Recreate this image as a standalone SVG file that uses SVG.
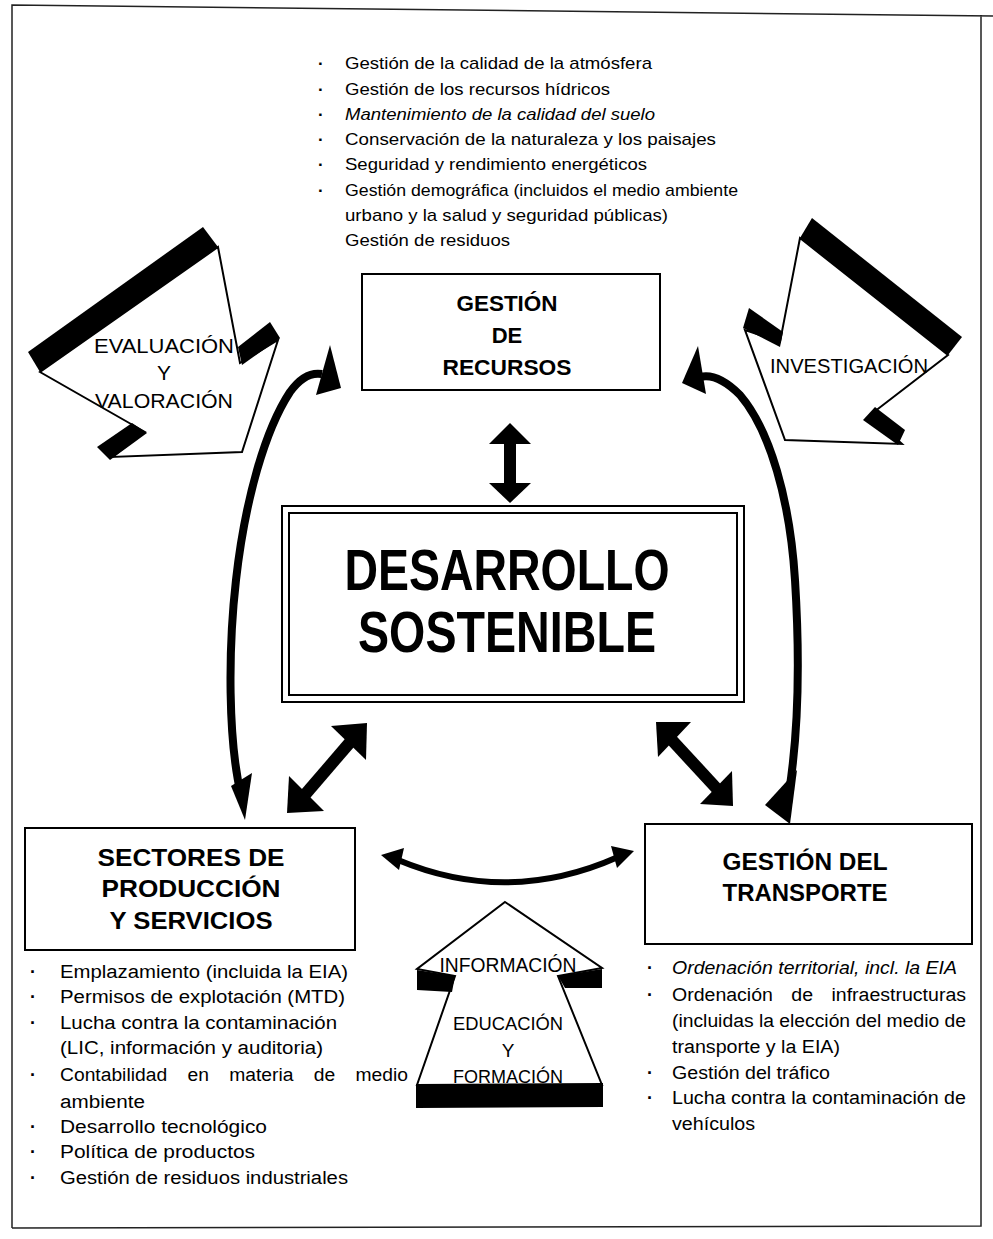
<svg xmlns="http://www.w3.org/2000/svg" width="993" height="1239" viewBox="0 0 993 1239">
<defs>
<style>
.t{font-family:"Liberation Sans",Arial,sans-serif;fill:#000}
.li{font-size:17px}
.lb{font-size:18px}
.b{font-weight:bold}
.bu{font-weight:bold}
.box{fill:#fff;stroke:#000;stroke-width:2}
.bar{fill:#000}
.arw{fill:#fff;stroke:#000;stroke-width:2;stroke-linejoin:miter}
.cur{fill:none;stroke:#000;stroke-width:8}
.head{fill:#000}
.shaft{stroke:#000;stroke-width:12}
.frame{fill:none;stroke:#222;stroke-width:1.5}
</style>
</defs>
<rect width="993" height="1239" fill="#fff"/>
<path class="frame" d="M12,1228 L12,5 L993,16 M981,15 L981,1226 L12,1228"/>

<g id="lista-recursos" class="t li">
<text class="bu" x="318" y="69">·</text><text x="345" y="69" textLength="307" lengthAdjust="spacingAndGlyphs">Gestión de la calidad de la atmósfera</text>
<text class="bu" x="318" y="95">·</text><text x="345" y="95" textLength="265" lengthAdjust="spacingAndGlyphs">Gestión de los recursos hídricos</text>
<text class="bu" x="318" y="120">·</text><text x="345" y="120" font-style="italic" textLength="310" lengthAdjust="spacingAndGlyphs">Mantenimiento de la calidad del suelo</text>
<text class="bu" x="318" y="145">·</text><text x="345" y="145" textLength="371" lengthAdjust="spacingAndGlyphs">Conservación de la naturaleza y los paisajes</text>
<text class="bu" x="318" y="170">·</text><text x="345" y="170" textLength="302" lengthAdjust="spacingAndGlyphs">Seguridad y rendimiento energéticos</text>
<text class="bu" x="318" y="196">·</text><text x="345" y="196" textLength="393" lengthAdjust="spacingAndGlyphs">Gestión demográfica (incluidos el medio ambiente</text>
<text x="345" y="221" textLength="323" lengthAdjust="spacingAndGlyphs">urbano y la salud y seguridad públicas)</text>
<text x="345" y="246" textLength="165" lengthAdjust="spacingAndGlyphs">Gestión de residuos</text>
</g>

<g id="gestion-recursos">
<rect class="box" x="362" y="274" width="298" height="116"/>
<text class="t b" font-size="22" x="507" y="311" text-anchor="middle" textLength="101" lengthAdjust="spacingAndGlyphs">GESTIÓN</text>
<text class="t b" font-size="22" x="507" y="343" text-anchor="middle">DE</text>
<text class="t b" font-size="22" x="507" y="375" text-anchor="middle" textLength="129" lengthAdjust="spacingAndGlyphs">RECURSOS</text>
</g>

<g id="desarrollo-sostenible">
<rect class="box" x="282" y="506" width="462" height="196"/>
<rect fill="none" stroke="#000" stroke-width="2" x="289" y="513" width="448" height="182"/>
<text class="t b" font-size="58" x="507" y="590" text-anchor="middle" textLength="325" lengthAdjust="spacingAndGlyphs">DESARROLLO</text>
<text class="t b" font-size="58" x="507" y="652" text-anchor="middle" textLength="298" lengthAdjust="spacingAndGlyphs">SOSTENIBLE</text>
</g>

<g id="evaluacion">
<polygon class="arw" points="40,372 218,247 240,363 278,340 242,452 112,457 145,432"/>
<polygon class="bar" points="28,352 203,227 218,247 40,372"/>
<polygon class="bar" points="238,347 270,322 280,338 242,365"/>
<polygon class="bar" points="97,447 132,423 147,433 110,460"/>
<text class="t" font-size="21" x="164" y="353" text-anchor="middle" textLength="140" lengthAdjust="spacingAndGlyphs">EVALUACIÓN</text>
<text class="t" font-size="21" x="164" y="380" text-anchor="middle">Y</text>
<text class="t" font-size="21" x="164" y="408" text-anchor="middle" textLength="138" lengthAdjust="spacingAndGlyphs">VALORACIÓN</text>
</g>

<g id="investigacion">
<polygon class="arw" points="800,238 780,342 745,330 785,440 902,444 870,415 948,355"/>
<polygon class="bar" points="800,238 812,218 962,337 948,355"/>
<polygon class="bar" points="743,328 749,308 783,332 780,347"/>
<polygon class="bar" points="863,420 875,407 905,430 898,445"/>
<text class="t" font-size="20" x="849" y="373" text-anchor="middle" textLength="158" lengthAdjust="spacingAndGlyphs">INVESTIGACIÓN</text>
</g>

<g id="sectores">
<rect class="box" x="25" y="828" width="330" height="122"/>
<text class="t b" font-size="24" x="191" y="866" text-anchor="middle" textLength="187" lengthAdjust="spacingAndGlyphs">SECTORES DE</text>
<text class="t b" font-size="24" x="191" y="897" text-anchor="middle" textLength="179" lengthAdjust="spacingAndGlyphs">PRODUCCIÓN</text>
<text class="t b" font-size="24" x="191" y="929" text-anchor="middle" textLength="163" lengthAdjust="spacingAndGlyphs">Y SERVICIOS</text>
</g>

<g id="lista-sectores" class="t lb">
<text class="bu" x="30" y="978">·</text><text x="60" y="978" textLength="288" lengthAdjust="spacingAndGlyphs">Emplazamiento (incluida la EIA)</text>
<text class="bu" x="30" y="1003">·</text><text x="60" y="1003" textLength="285" lengthAdjust="spacingAndGlyphs">Permisos de explotación (MTD)</text>
<text class="bu" x="30" y="1029">·</text><text x="60" y="1029" textLength="277" lengthAdjust="spacingAndGlyphs">Lucha contra la contaminación</text>
<text x="60" y="1054" textLength="263" lengthAdjust="spacingAndGlyphs">(LIC, información y auditoria)</text>
<text class="bu" x="30" y="1081">·</text><text x="60" y="1081" word-spacing="14" textLength="348" lengthAdjust="spacingAndGlyphs">Contabilidad en materia de medio</text>
<text x="60" y="1108" textLength="85" lengthAdjust="spacingAndGlyphs">ambiente</text>
<text class="bu" x="30" y="1133">·</text><text x="60" y="1133" textLength="207" lengthAdjust="spacingAndGlyphs">Desarrollo tecnológico</text>
<text class="bu" x="30" y="1158">·</text><text x="60" y="1158" textLength="195" lengthAdjust="spacingAndGlyphs">Política de productos</text>
<text class="bu" x="30" y="1184">·</text><text x="60" y="1184" textLength="288" lengthAdjust="spacingAndGlyphs">Gestión de residuos industriales</text>
</g>

<g id="transporte">
<rect class="box" x="645" y="824" width="327" height="120"/>
<text class="t b" font-size="23" x="805" y="870" text-anchor="middle" textLength="165" lengthAdjust="spacingAndGlyphs">GESTIÓN DEL</text>
<text class="t b" font-size="23" x="805" y="901" text-anchor="middle" textLength="165" lengthAdjust="spacingAndGlyphs">TRANSPORTE</text>
</g>

<g id="lista-transporte" class="t lb">
<text class="bu" x="647" y="974">·</text><text x="672" y="974" font-style="italic" textLength="285" lengthAdjust="spacingAndGlyphs">Ordenación territorial, incl. la EIA</text>
<text class="bu" x="647" y="1001">·</text><text x="672" y="1001" word-spacing="12" textLength="294" lengthAdjust="spacingAndGlyphs">Ordenación de infraestructuras</text>
<text x="672" y="1027" textLength="294" lengthAdjust="spacingAndGlyphs">(incluidas la elección del medio de</text>
<text x="672" y="1053" textLength="168" lengthAdjust="spacingAndGlyphs">transporte y la EIA)</text>
<text class="bu" x="647" y="1079">·</text><text x="672" y="1079" textLength="158" lengthAdjust="spacingAndGlyphs">Gestión del tráfico</text>
<text class="bu" x="647" y="1104">·</text><text x="672" y="1104" textLength="294" lengthAdjust="spacingAndGlyphs">Lucha contra la contaminación de</text>
<text x="672" y="1130" textLength="83" lengthAdjust="spacingAndGlyphs">vehículos</text>
</g>

<g id="informacion">
<polygon class="arw" points="505,902 602,968 558,976 602,1085 417,1085 455,976 417,969"/>
<polygon class="bar" points="417,970 455,976 452,992 417,990"/>
<polygon class="bar" points="558,976 602,969 602,988 565,988"/>
<polygon class="bar" points="416,1084 603,1083 603,1107 416,1108"/>
<text class="t" font-size="20" x="508" y="972" text-anchor="middle" textLength="137" lengthAdjust="spacingAndGlyphs">INFORMACIÓN</text>
<text class="t" font-size="19" x="508" y="1030" text-anchor="middle" textLength="110" lengthAdjust="spacingAndGlyphs">EDUCACIÓN</text>
<text class="t" font-size="19" x="508" y="1057" text-anchor="middle">Y</text>
<text class="t" font-size="19" x="508" y="1083" text-anchor="middle" textLength="110" lengthAdjust="spacingAndGlyphs">FORMACIÓN</text>
</g>

<g id="conectores">
<line class="shaft" x1="510" y1="440" x2="510" y2="486" stroke-width="11"/>
<polygon class="head" points="510,423 531,444 489,444"/>
<polygon class="head" points="510,503 531,483 489,483"/>
<line class="shaft" x1="303" y1="797" x2="352" y2="740"/>
<polygon class="head" points="287,813 289,776 324,811"/>
<polygon class="head" points="367,723 331,726 366,760"/>
<line class="shaft" x1="670" y1="738" x2="718" y2="790"/>
<polygon class="head" points="656,722 691,722 658,757"/>
<polygon class="head" points="733,806 732,771 700,804"/>
<path class="cur" d="M241,795 C228,740 228,650 236,580 C245,500 265,430 290,392 C300,378 310,372 322,374"/>
<polygon class="head" points="330,345 341,388 316,395"/>
<polygon class="head" points="231,786 252,773 245,820"/>
<path class="cur" d="M700,377 C712,374 725,380 740,395 C770,430 790,500 795,580 C800,660 798,735 789,792"/>
<polygon class="head" points="698,346 682,383 706,394"/>
<polygon class="head" points="797,770 765,805 790,824"/>
<path d="M398,860 Q508,906 618,857" fill="none" stroke="#000" stroke-width="6"/>
<polygon class="head" points="381,855 404,848 399,870"/>
<polygon class="head" points="634,851 611,846 617,868"/>
</g>
</svg>
